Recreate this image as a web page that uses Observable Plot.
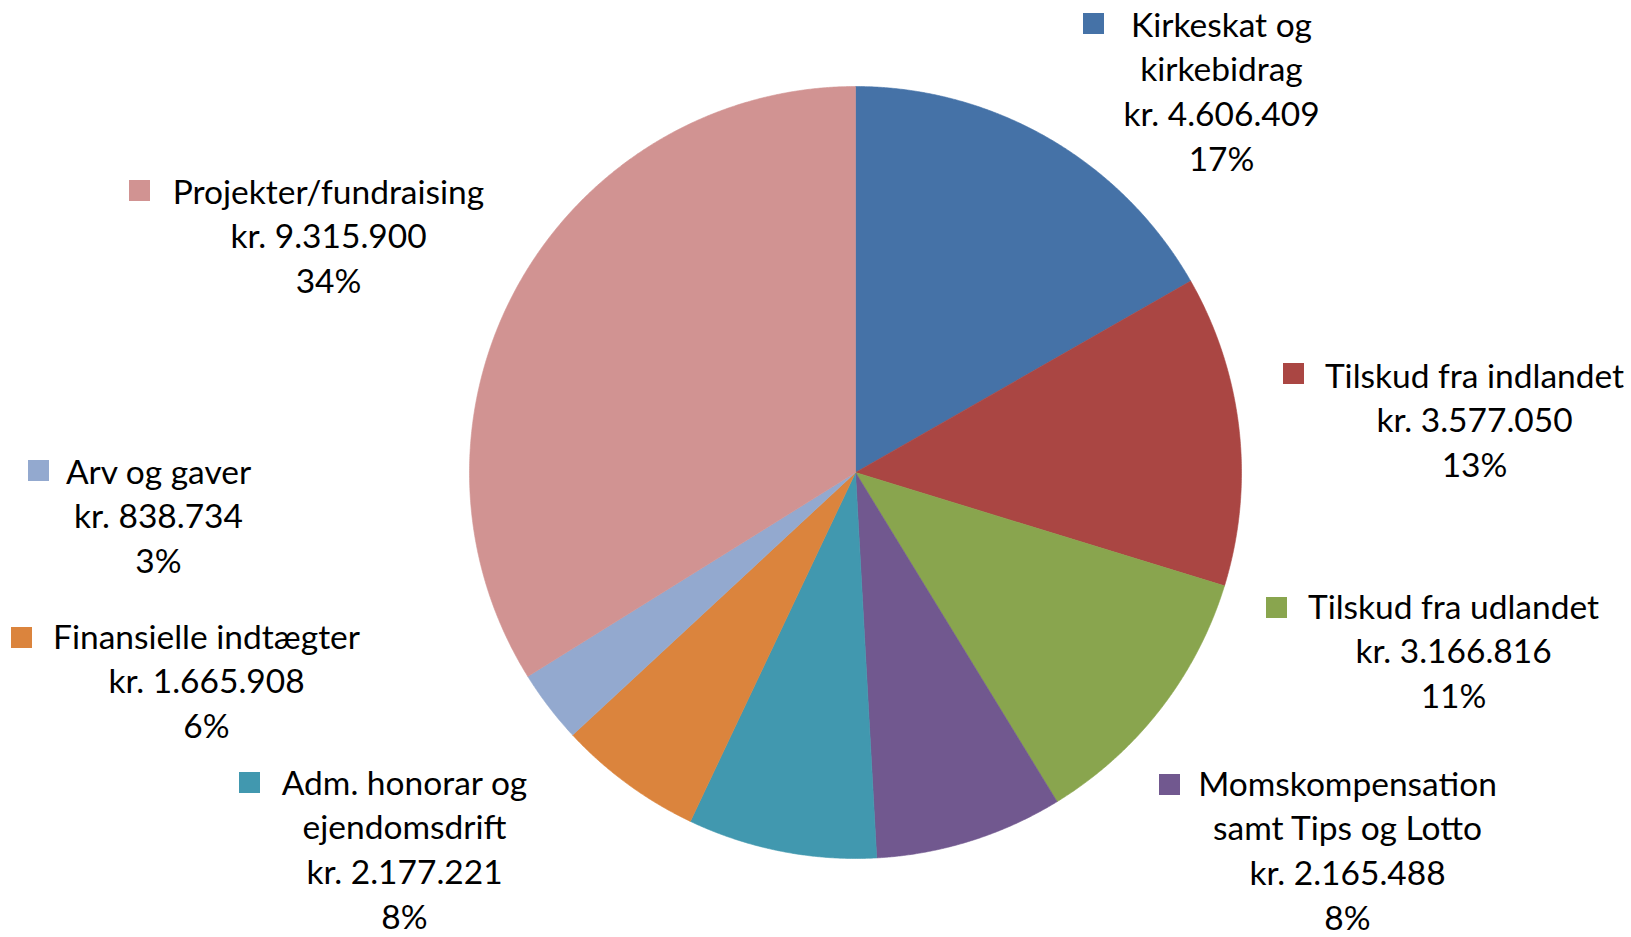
<!DOCTYPE html>
<html><head><meta charset="utf-8">
<script src="https://cdn.jsdelivr.net/npm/d3@7"></script>
<script src="https://cdn.jsdelivr.net/npm/@observablehq/plot@0.6"></script>
<style>html,body{margin:0;padding:0;background:#fff;overflow:hidden}#chart svg{display:block}</style>
</head><body><div id="chart"></div>
<script>
// ---- data (clockwise from 12 o'clock) ----
const categories = ["Kirkeskat og kirkebidrag","Tilskud fra indlandet","Tilskud fra udlandet","Momskompensation samt Tips og Lotto","Adm. honorar og ejendomsdrift","Finansielle indtægter","Arv og gaver","Projekter/fundraising"];
const nameLines = [["Kirkeskat og","kirkebidrag"],["Tilskud fra indlandet"],["Tilskud fra udlandet"],["Momskompensation","samt Tips og Lotto"],["Adm. honorar og","ejendomsdrift"],["Finansielle indtægter"],["Arv og gaver"],["Projekter/fundraising"]];
const values = [4606409,3577050,3166816,2165488,2177221,1665908,838734,9315900];
const percentLabels = ["17%","13%","11%","8%","8%","6%","3%","34%"];
const colors = ["#4572A7","#AA4643","#89A54E","#71588F","#4198AF","#DB843D","#93A9CF","#D19392"];

// ---- layout ----
const W = 1631, H = 937, CX = 855, CY = 472, R = 386;
const FONT = "Lato", FS = 33.5, LINE = 44.8, KEY = 21;
// label anchors (pixels): text centre x, first baseline y, key centre x/y
const labelLayout = [
  {tx:1221, b0:36,  kx:1093, ky:23},
  {tx:1474, b0:387, kx:1293, ky:373},
  {tx:1453, b0:618, kx:1276, ky:607},
  {tx:1347, b0:795, kx:1169, ky:784},
  {tx:404,  b0:794, kx:249,  ky:782},
  {tx:206,  b0:648, kx:21,   ky:637},
  {tx:158,  b0:483, kx:38,   ky:470},
  {tx:328,  b0:203, kx:139,  ky:190}
];
const px = x => (x - CX) / R, py = y => (CY - y) / R;

const fmt = d3.formatLocale({decimal:",", thousands:".", grouping:[3], currency:["",""]}).format(",d");

// slices
const arcs = d3.pie().sort(null).value(d => d)(values);
const slicePts = [];
arcs.forEach((a, i) => {
  const cat = categories[i];
  slicePts.push({cat, x:0, y:0});
  const n = Math.max(2, Math.ceil((a.endAngle - a.startAngle) / (Math.PI / 720)));
  for (let k = 0; k <= n; k++) {
    const t = a.startAngle + (a.endAngle - a.startAngle) * k / n;
    slicePts.push({cat, x:Math.sin(t), y:Math.cos(t)});
  }
  slicePts.push({cat, x:0, y:0});
});

// label lines
const textRows = [];
const keys = [];
categories.forEach((cat, i) => {
  const L = labelLayout[i];
  const lines = [...nameLines[i], "kr. " + fmt(values[i]), percentLabels[i]];
  lines.forEach((t, j) => textRows.push({x:px(L.tx), y:py(L.b0 + j * LINE), text:t}));
  keys.push({cat, x:px(L.kx), y:py(L.ky)});
});

const chart = Plot.plot({
  width: W, height: H,
  margin: 0,
  x: {domain:[px(0), px(W)], axis:null},
  y: {domain:[py(H), py(0)], axis:null},
  color: {domain: categories, range: colors},
  style: {background:"#fff", fontFamily: FONT, overflow:"visible"},
  marks: [
    Plot.line(slicePts, {x:"x", y:"y", z:"cat", fill:"cat", stroke:"cat", strokeWidth:0.6, curve:"linear"}),
    Plot.dot(keys, {x:"x", y:"y", symbol:"square", r: KEY / Math.sqrt(Math.PI), fill:"cat", stroke:"none"}),
    Plot.text(textRows, {x:"x", y:"y", text:"text", textAnchor:"middle", lineAnchor:"bottom", fontSize:FS, fontFamily:FONT, fill:"#000"})
  ]
});
document.getElementById("chart").appendChild(chart);
</script>
</body></html>
